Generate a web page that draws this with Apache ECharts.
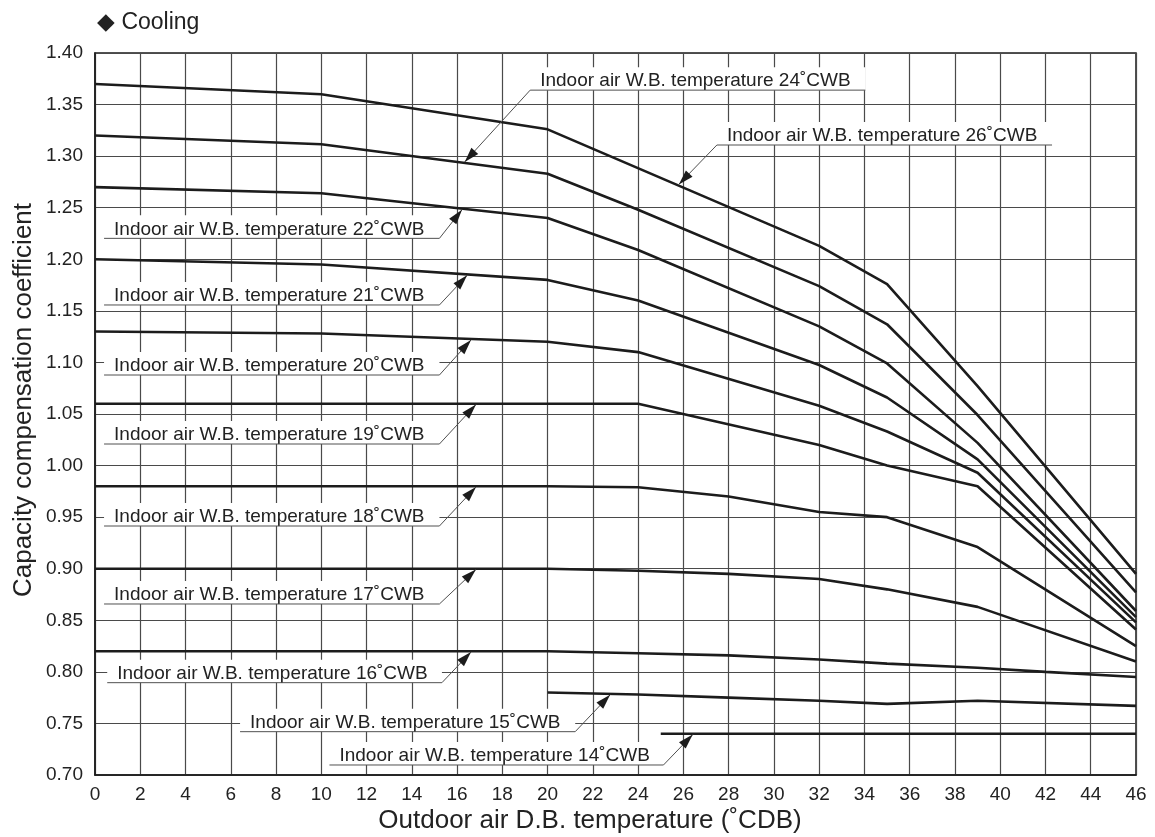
<!DOCTYPE html>
<html><head><meta charset="utf-8">
<script src="https://cdn.jsdelivr.net/npm/echarts@6/dist/echarts.min.js"></script>
<style>html,body{margin:0;padding:0;background:#fff}#c{width:1155px;height:837px}</style>
</head><body><div id="c"></div>
<script>
// ---- data ----
const x26 = [0, 10, 20, 32, 35, 39, 46];
const y26 = [1.37, 1.36, 1.326, 1.213, 1.176, 1.077, 0.895];
const xMid = [0, 10, 20, 24, 32, 35, 39, 46];
const y24 = [1.32, 1.3115, 1.283, 1.248, 1.174, 1.137, 1.049, 0.877];
const y22 = [1.27, 1.264, 1.24, 1.209, 1.135, 1.099, 1.022, 0.859];
const y21 = [1.20, 1.195, 1.18, 1.16, 1.0975, 1.066, 1.006, 0.853];
const y20 = [1.13, 1.128, 1.12, 1.11, 1.058, 1.033, 0.993, 0.848];
const y19 = [1.06, 1.06, 1.06, 1.06, 1.02, 1.00, 0.98, 0.841];
const xLow = [0, 10, 20, 24, 28, 32, 35, 39, 46];
const y18 = [0.98, 0.98, 0.98, 0.979, 0.97, 0.955, 0.95, 0.921, 0.825];
const y17 = [0.90, 0.90, 0.90, 0.898, 0.895, 0.89, 0.88, 0.863, 0.81];
const x16 = [0, 10, 20, 24, 28, 32, 35, 39, 42, 46];
const y16 = [0.82, 0.82, 0.82, 0.818, 0.816, 0.812, 0.808, 0.804, 0.80, 0.795];
const x15 = [20, 24, 28, 32, 35, 39, 46];
const y15 = [0.78, 0.778, 0.775, 0.772, 0.769, 0.772, 0.767];
const x14 = [25, 46];
const y14 = [0.74, 0.74];

const curveNames = ['26', '24', '22', '21', '20', '19', '18', '17', '16', '15', '14'];
const curveX = [x26, xMid, xMid, xMid, xMid, xMid, xLow, xLow, x16, x15, x14];
const curveY = [y26, y24, y22, y21, y20, y19, y18, y17, y16, y15, y14];

const labelPrefix = 'Indoor air W.B. temperature ';
const labelSuffix = '˚CWB';
const titleText = '◆ Cooling';
const xName = 'Outdoor air D.B. temperature (˚CDB)';
const yName = 'Capacity compensation coefficient';

// label annotation anchors (data coordinates): underline y, underline start/end x, arrow tip x
const labelDefs = [
  {wb: '24', side: 'left',  lineY: 1.364,  x0: 19.23, x1: 34.04, tipX: 16.3},
  {wb: '26', side: 'left',  lineY: 1.3108, x0: 27.48, x1: 42.29, tipX: 25.76},
  {wb: '22', side: 'right', lineY: 1.2203, x0: 0.40,  x1: 15.22, tipX: 16.25},
  {wb: '21', side: 'right', lineY: 1.1557, x0: 0.40,  x1: 15.22, tipX: 16.48},
  {wb: '20', side: 'right', lineY: 1.0878, x0: 0.40,  x1: 15.22, tipX: 16.65},
  {wb: '19', side: 'right', lineY: 1.0209, x0: 0.40,  x1: 15.22, tipX: 16.87},
  {wb: '18', side: 'right', lineY: 0.9414, x0: 0.40,  x1: 15.22, tipX: 16.87},
  {wb: '17', side: 'right', lineY: 0.8658, x0: 0.40,  x1: 15.22, tipX: 16.87},
  {wb: '16', side: 'right', lineY: 0.7895, x0: 0.54,  x1: 15.33, tipX: 16.65},
  {wb: '15', side: 'right', lineY: 0.742,  x0: 6.41,  x1: 21.22, tipX: 22.8},
  {wb: '14', side: 'right', lineY: 0.7097, x0: 10.36, x1: 25.12, tipX: 26.45}
];

const FONT = "'Liberation Sans', Arial, Helvetica, sans-serif";
const chart = echarts.init(document.getElementById('c'), null, {renderer: 'canvas'});

const series = curveNames.map((n, i) => ({
  name: n, type: 'line', smooth: false, symbol: 'none', z: 2,
  lineStyle: {color: '#1c1c1c', width: 2.6},
  data: curveX[i].map((x, j) => [x, curveY[i][j]])
}));

chart.setOption({
  animation: false,
  backgroundColor: '#fff',
  grid: {left: 95, right: 19, top: 53, bottom: 62, show: true, borderColor: '#1a1a1a', borderWidth: 1.5},
  xAxis: {
    type: 'value', min: 0, max: 46, interval: 2,
    axisLine: {show: true, lineStyle: {color: '#1a1a1a', width: 1.5}},
    axisTick: {show: false},
    axisLabel: {fontSize: 19, fontFamily: FONT, color: '#222', margin: 10},
    splitLine: {show: true, lineStyle: {color: '#4a4a4a', width: 1.2}}
  },
  yAxis: {
    type: 'value', min: 0.70, max: 1.40, interval: 0.05,
    axisLine: {show: true, lineStyle: {color: '#1a1a1a', width: 1.5}},
    axisTick: {show: false},
    axisLabel: {fontSize: 19, fontFamily: FONT, color: '#222', margin: 12, formatter: v => v.toFixed(2)},
    splitLine: {show: true, lineStyle: {color: '#4a4a4a', width: 1.2}}
  },
  series: series
});

function interp(xs, ys, x) {
  for (let i = 0; i < xs.length - 1; i++) {
    if (x >= xs[i] && x <= xs[i + 1]) {
      const t = (x - xs[i]) / (xs[i + 1] - xs[i]);
      return ys[i] + t * (ys[i + 1] - ys[i]);
    }
  }
  return ys[ys.length - 1];
}

const px = p => chart.convertToPixel({gridIndex: 0}, p);
const graphics = [];

graphics.push({type: 'text', z: 5, silent: true,
  style: {text: titleText, x: 97, y: 23, font: "23px " + FONT, fill: '#222', verticalAlign: 'middle', align: 'left'}});
graphics.push({type: 'text', z: 5, silent: true,
  style: {text: xName, x: 590, y: 821, font: "26px " + FONT, fill: '#222', verticalAlign: 'middle', align: 'center'}});
graphics.push({type: 'text', z: 5, silent: true, x: 24, y: 400, rotation: Math.PI / 2,
  style: {text: yName, x: 0, y: 0, font: "26px " + FONT, fill: '#222', verticalAlign: 'middle', align: 'center'}});

labelDefs.forEach(d => {
  const ci = curveNames.indexOf(d.wb);
  const p0 = px([d.x0, d.lineY]);
  const p1 = px([d.x1, d.lineY]);
  const tip = px([d.tipX, interp(curveX[ci], curveY[ci], d.tipX)]);
  const start = d.side === 'left' ? p0 : p1;
  // white box behind text
  graphics.push({type: 'rect', z: 1, silent: true,
    shape: {x: p0[0], y: p0[1] - 23, width: p1[0] - p0[0], height: 23},
    style: {fill: '#fff'}});
  graphics.push({type: 'text', z: 5, silent: true,
    style: {text: labelPrefix + d.wb + labelSuffix, x: p0[0] + 10, y: p0[1] + 0.5,
      font: "19px " + FONT, fill: '#222', align: 'left', verticalAlign: 'bottom'}});
  // underline + leader
  const dx = tip[0] - start[0], dy = tip[1] - start[1];
  const len = Math.hypot(dx, dy);
  const ux = dx / len, uy = dy / len;
  const t2 = [tip[0] - ux * 1.2, tip[1] - uy * 1.2];
  const pts = d.side === 'left' ? [p1, p0, t2] : [p0, p1, t2];
  graphics.push({type: 'polyline', z: 5, silent: true,
    shape: {points: pts}, style: {stroke: '#505050', lineWidth: 1, fill: null}});
  const L = 15, W = 4.6;
  const bx = t2[0] - ux * L, by = t2[1] - uy * L;
  graphics.push({type: 'polygon', z: 6, silent: true,
    shape: {points: [t2, [bx - uy * W, by + ux * W], [bx + uy * W, by - ux * W]]},
    style: {fill: '#1c1c1c'}});
});

chart.setOption({graphic: graphics});
</script>
</body></html>
